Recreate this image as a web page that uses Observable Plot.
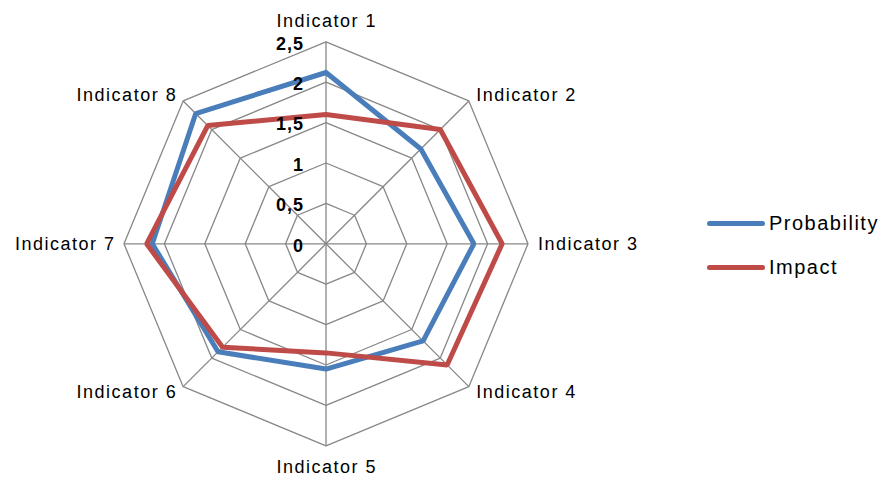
<!DOCTYPE html>
<html>
<head>
<meta charset="utf-8">
<script src="https://cdn.jsdelivr.net/npm/d3@7"></script>
<script src="https://cdn.jsdelivr.net/npm/@observablehq/plot@0.6"></script>
<style>
  html, body { margin: 0; padding: 0; background: #fff; }
  #wrap { position: relative; width: 883px; height: 480px; font-family: "Liberation Sans", Arial, sans-serif; }
  #legend { position: absolute; left: 707px; top: 211px; font-size: 20px; letter-spacing: 1.5px; color: #000; }
  .item { display: flex; align-items: center; height: 24px; margin-bottom: 20px; white-space: nowrap; }
  .sw { width: 58px; height: 5px; border-radius: 3px; margin-right: 4px; }
</style>
</head>
<body>
<div id="wrap"><div id="chart"></div><div id="legend"></div></div>
<script>
// ---- data ----
const indicators = ["Indicator 1","Indicator 2","Indicator 3","Indicator 4","Indicator 5","Indicator 6","Indicator 7","Indicator 8"];
const probability = [2.12, 1.66, 1.83, 1.70, 1.55, 1.89, 2.15, 2.28];
const impact      = [1.60, 2.00, 2.18, 2.12, 1.35, 1.81, 2.22, 2.07];
const seriesNames = ["Probability", "Impact"];
const seriesColors = ["#4A7EBB", "#BE4B48"];
const tickValues = [0, 0.5, 1, 1.5, 2, 2.5];
const tickLabels = ["0", "0,5", "1", "1,5", "2", "2,5"];

// ---- geometry helpers ----
const n = indicators.length;
const ang = i => i * 2 * Math.PI / n;
const px = (i, r) => r * Math.sin(ang(i));
const py = (i, r) => r * Math.cos(ang(i));
const rMax = 2.5;

const W = 883, H = 480, cx = 325.5, cy = 243.3, k = 202 / rMax;

// grid polygons
const gridPts = [];
for (const lv of tickValues.slice(1)) {
  for (let i = 0; i <= n; i++) gridPts.push({lv, x: px(i % n, lv), y: py(i % n, lv)});
}
// spokes
const spokes = indicators.map((name, i) => ({x2: px(i, rMax), y2: py(i, rMax)}));
// series
const seriesPts = [];
[probability, impact].forEach((vals, s) => {
  for (let i = 0; i <= n; i++) seriesPts.push({s: seriesNames[s], x: px(i % n, vals[i % n]), y: py(i % n, vals[i % n])});
});
// axis labels: anchor and pixel offset derived from the spoke angle
const LS = 1.5; // letter spacing of the category labels
const labels = indicators.map((name, i) => {
  const sn = Math.sin(ang(i)), cs = Math.cos(ang(i));
  const anchor = sn > 0.1 ? "start" : sn < -0.1 ? "end" : "middle";
  const offX = Math.abs(sn) > 0.9 ? Math.sign(sn) * 10 : Math.abs(sn) > 0.1 ? Math.sign(sn) * 7.5 : 0;
  const offY = Math.abs(cs) > 0.9 ? Math.sign(cs) * 21 : Math.abs(cs) > 0.1 ? Math.sign(cs) * 5.5 : 0;
  const fixX = anchor === "end" ? LS : anchor === "middle" ? LS / 2 : 0; // trailing letter-spacing compensation
  return {name, anchor, x: px(i, rMax) + (offX + fixX) / k, y: py(i, rMax) + offY / k};
});
const ticks = tickValues.map((v, j) => ({v, label: tickLabels[j]}));

const plot = Plot.plot({
  width: W, height: H,
  margin: 0,
  x: {domain: [-cx / k, (W - cx) / k], range: [0, W], axis: null},
  y: {domain: [-(H - cy) / k, cy / k], range: [H, 0], axis: null},
  style: {fontFamily: "Liberation Sans, Arial, sans-serif", background: "#fff"},
  marks: [
    Plot.line(gridPts, {x: "x", y: "y", z: "lv", stroke: "#878787", strokeWidth: 1.3}),
    Plot.link(spokes, {x1: 0, y1: 0, x2: "x2", y2: "y2", stroke: "#878787", strokeWidth: 1.3}),
    Plot.line(seriesPts, {x: "x", y: "y", z: "s", stroke: d => seriesColors[seriesNames.indexOf(d.s)], strokeWidth: 5, strokeLinejoin: "miter"}),
    Plot.text(ticks, {x: 0, y: "v", text: "label", textAnchor: "end", dx: -22, dy: 2, fontSize: 18, fontWeight: "bold", fill: "#000"}),
    ...["start", "middle", "end"].map(a => Plot.text(labels.filter(d => d.anchor === a), {
      x: "x", y: "y", text: "name", textAnchor: a, fontSize: 18, fill: "#000"
    }))
  ]
});
// letter spacing (not a Plot text option in 0.6): apply via CSS to the rendered text groups
const textGroups = plot.querySelectorAll("g[aria-label='text']");
textGroups.forEach((g, gi) => { g.style.letterSpacing = gi === 0 ? "1px" : LS + "px"; });
document.getElementById("chart").appendChild(plot);

// legend
const lg = document.getElementById("legend");
seriesNames.forEach((s, i) => {
  const it = document.createElement("div"); it.className = "item";
  const sw = document.createElement("div"); sw.className = "sw"; sw.style.background = seriesColors[i];
  const tx = document.createElement("span"); tx.textContent = s;
  it.appendChild(sw); it.appendChild(tx); lg.appendChild(it);
});
</script>
</body>
</html>
